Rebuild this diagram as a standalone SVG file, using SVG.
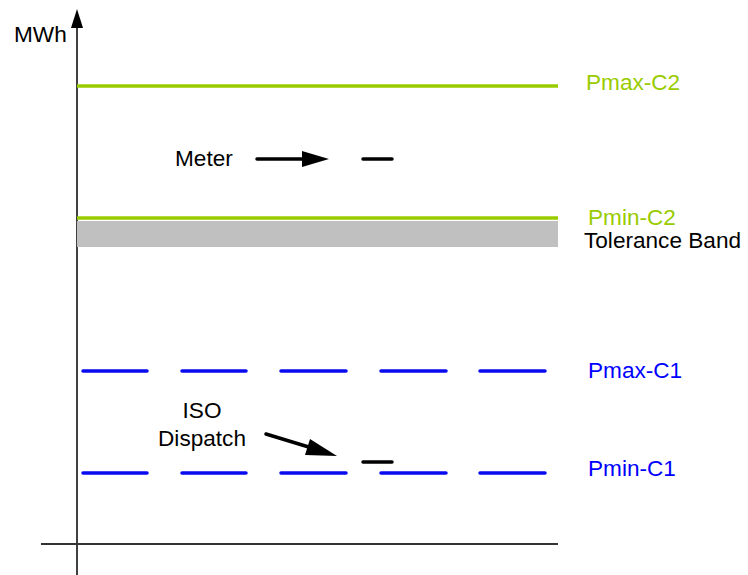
<svg xmlns="http://www.w3.org/2000/svg" width="748" height="575" viewBox="0 0 748 575">
<defs>
<style>
text{font-family:"Liberation Sans",Arial,sans-serif;font-size:22.6px;fill:#000}
.g{fill:#99cc00}
.b{fill:#0000ff}
.gl{stroke:#99cc00;stroke-width:3.5;fill:none}
.bl{stroke:#0a0af0;stroke-width:3.5;stroke-linecap:round;fill:none}
.k{stroke:#000;stroke-width:3.5;stroke-linecap:round;fill:none}
</style>
</defs>
<rect width="748" height="575" fill="#fff"/>
<g id="axes">
<line x1="77" y1="575" x2="77" y2="24" stroke="#000" stroke-width="1.5"/>
<path d="M71,28L77,9L83,28z" fill="#000"/>
<line x1="41" y1="544" x2="558" y2="544" stroke="#333" stroke-width="1.8"/>
<text x="14" y="42">MWh</text>
</g>
<g id="band"><rect x="77" y="221" width="481" height="26" fill="#c0c0c0"/></g>
<g id="pmax-c2"><line class="gl" x1="77" y1="86" x2="558" y2="86"/><text class="g" x="586" y="90">Pmax-C2</text></g>
<g id="pmin-c2"><line class="gl" x1="77" y1="218" x2="558" y2="218"/><text class="g" x="588" y="225">Pmin-C2</text></g>
<g id="tolerance"><text x="584" y="248">Tolerance Band</text></g>
<g id="pmax-c1"><path class="bl" d="M83,371H147M182,371H246M281,371H346M381,371H446M480,371H545"/><text class="b" x="588" y="378">Pmax-C1</text></g>
<g id="pmin-c1"><path class="bl" d="M83,473H147M182,473H246M281,473H346M381,473H446M480,473H545"/><text class="b" x="588" y="476">Pmin-C1</text></g>
<g id="meter"><text x="175" y="166">Meter</text><line class="k" x1="363" y1="159" x2="392" y2="159"/></g>
<g id="iso"><text x="202" y="418" text-anchor="middle">ISO</text><text x="202" y="446" text-anchor="middle">Dispatch</text><line class="k" x1="363" y1="462" x2="392" y2="462"/></g>
<g id="connectors">
<line x1="257" y1="159" x2="303" y2="159" stroke="#000" stroke-width="3.5" stroke-linecap="round"/>
<path d="M302,151L329,159L302,167z" fill="#000"/>
<line x1="266" y1="434" x2="312" y2="448" stroke="#000" stroke-width="3.5" stroke-linecap="round"/>
<path d="M310,439L337,456L305,455z" fill="#000"/>
</g>
</svg>
